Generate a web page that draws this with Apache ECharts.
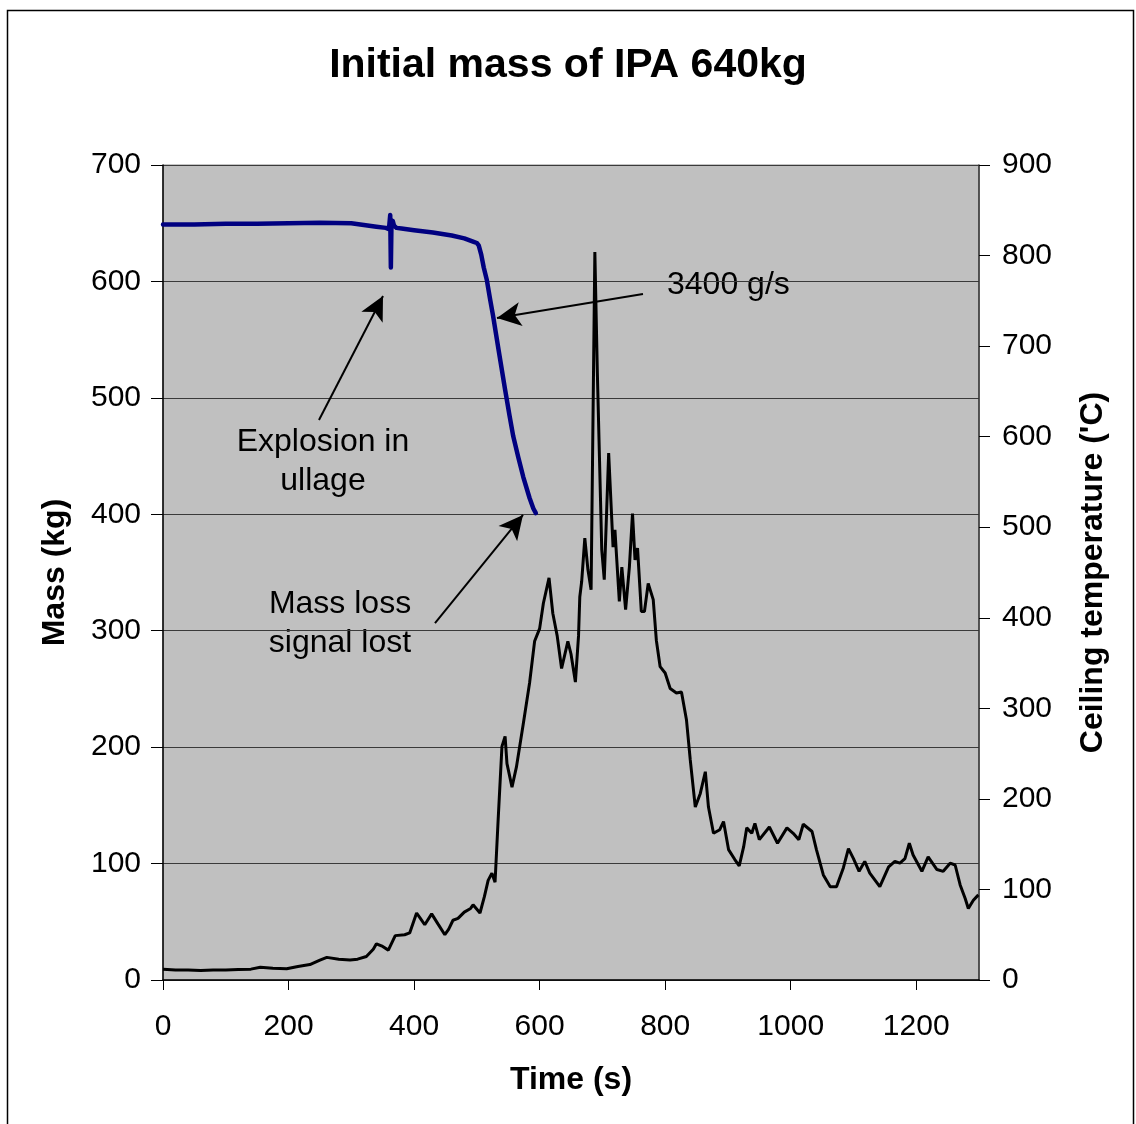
<!DOCTYPE html>
<html><head><meta charset="utf-8">
<script src="https://cdn.jsdelivr.net/npm/echarts@6/dist/echarts.min.js"></script>
<style>html,body{margin:0;padding:0;background:#fff}#c{width:1136px;height:1124px}</style>
</head><body><div id="c"></div>
<script>
// ---- data ----
const massTime = [0,50,100,150,200,250,300,320,340,355,360,362,363,364,366,368,372,380,400,430,460,480,495,500,503,507,511,516,521,526,535,545,552,558,566,574,584,590,594];
const massKg   = [649,649,649.5,649.5,650,650.5,650,648.5,647,646,645,657,612,650,652,648,646,645.5,644,642,639.5,637,634,633,631,623,612,601,585,570,540,507,485,467,449,432,414,405,401];

const tempTime = [0,20,40,60,80,100,120,140,155,175,197,215,234,250,261,280,298,310,324,335,340,350,359,370,385,393,404,410,417,428,438,449,455,462,470,480,490,494,505,512,518,524,529,534,540,545,548,556,563,574,584,592,600,606,615,621,628,635,645,650,657,662,664,667,672,677,682,688,692,699,703,710,717,720,727,731,737,743,748,752,756,762,767,773,776,781,786,792,800,808,818,826,834,840,848,856,864,869,877,887,893,901,911,918,925,930,938,943,950,966,979,994,1004,1013,1020,1034,1041,1052,1063,1073,1084,1092,1100,1109,1118,1126,1142,1156,1166,1174,1182,1189,1195,1209,1219,1233,1243,1254,1262,1270,1278,1283,1291,1299];
const tempC    = [12,11,11,10.5,11,11,11.5,12,14,13,12.5,15,17,22,25,23,22,23,26,34,40,37,33,49,50,52,74,68,61,73,62,50,56,66,68,75,79,83,74,92,110,118,108,178,258,269,239,213,235,283,328,374,388,416,444,405,380,344,374,360,329,380,423,440,488,453,431,804,670,475,442,582,478,497,418,456,409,456,515,464,477,407,407,438,436,420,375,346,339,322,317,318,287,243,191,206,230,191,162,166,175,144,133,126,147,168,162,173,155,169,151,168,162,155,172,164,144,116,103,103,124,145,134,120,131,118,103,125,131,129,134,151,138,120,136,122,120,129,127,105,90,79,88,94];

const xTicks = [0,200,400,600,800,1000,1200];
const title = 'Initial mass of IPA 640kg';

// annotation arrows in (time, mass) data space: [tail, head]
const arrows = [
  [[764.7,589.2],[532.1,568.6]],
  [[248.5,481.0],[350.5,587.5]],
  [[433.3,306.6],[573.5,399.4]]
];

const F = "'Liberation Sans', Arial, sans-serif";
const chart = echarts.init(document.getElementById('c'), null, {renderer:'canvas'});

const massData = massTime.map((t,i)=>[t, massKg[i]]);
const tempData = tempTime.map((t,i)=>[t, tempC[i]]);

chart.setOption({
  animation:false,
  backgroundColor:'#fff',
  title:{text:title, left:'center', top:40, textStyle:{fontFamily:F, fontSize:41, fontWeight:'bold', color:'#000'}},
  grid:{left:163, right:157, top:165, bottom:144, show:true, backgroundColor:'#C0C0C0', borderColor:'#8a8a8a', borderWidth:1},
  xAxis:{type:'value', min:0, max:1300, interval:200,
    name:'Time (s)', nameLocation:'middle', nameGap:84,
    nameTextStyle:{fontFamily:F, fontSize:32, fontWeight:'bold', color:'#000'},
    axisLine:{show:true, onZero:false, lineStyle:{color:'#000', width:1.5}},
    axisTick:{show:true, length:10, lineStyle:{color:'#000'}},
    axisLabel:{fontFamily:F, fontSize:30, color:'#000', margin:32, showMaxLabel:false,
      formatter:v=> xTicks.indexOf(v)>=0 ? String(v) : ''},
    splitLine:{show:false}},
  yAxis:[
    {type:'value', min:0, max:700, interval:100, position:'left',
      name:'Mass (kg)', nameLocation:'middle', nameGap:92, nameRotate:90,
      nameTextStyle:{fontFamily:F, fontSize:32, fontWeight:'bold', color:'#000'},
      axisLine:{show:true, lineStyle:{color:'#000', width:1.5}},
      axisTick:{show:true, length:12, lineStyle:{color:'#000'}},
      axisLabel:{fontFamily:F, fontSize:30, color:'#000', margin:22},
      splitLine:{show:true, lineStyle:{color:'#3a3a3a', width:1}}},
    {type:'value', min:0, max:900, interval:100, position:'right',
      name:"Ceiling temperature ('C)", nameLocation:'middle', nameGap:98, nameRotate:90,
      nameTextStyle:{fontFamily:F, fontSize:32, fontWeight:'bold', color:'#000'},
      axisLine:{show:true, lineStyle:{color:'#333', width:1.5}},
      axisTick:{show:true, length:11, lineStyle:{color:'#000'}},
      axisLabel:{fontFamily:F, fontSize:30, color:'#000', margin:23},
      splitLine:{show:false}}
  ],
  series:[
    {name:'Temperature', type:'line', yAxisIndex:1, data:tempData, showSymbol:false, symbol:'none',
      lineStyle:{color:'#000', width:3}, z:2},
    {name:'Mass', type:'line', yAxisIndex:0, data:massData, showSymbol:false, symbol:'none',
      lineStyle:{color:'#000080', width:4.5, cap:'round', join:'round'}, z:3,
      markLine:{silent:true, animation:false, symbol:['none','arrow'], symbolSize:[18,24],
        label:{show:false},
        lineStyle:{color:'#000', width:2, type:'solid'},
        data: arrows.map(a=>[{coord:a[0], symbol:'none'},{coord:a[1], symbol:'arrow'}])}}
  ],
  graphic:[
    {type:'rect', left:5, top:8, shape:{width:1126, height:1130}, style:{fill:'none', stroke:'#000', lineWidth:1.5}, z:-10, silent:true},
    {type:'text', left:667, top:269, style:{text:'3400 g/s', font:"32px "+F, fill:'#000'}},
    {type:'text', x:323, y:423, style:{text:'Explosion in\nullage', font:"32px "+F, fill:'#000', align:'center', lineHeight:39}},
    {type:'text', x:340, y:585, style:{text:'Mass loss\nsignal lost', font:"32px "+F, fill:'#000', align:'center', lineHeight:39}}
  ]
});
</script>
</body></html>
